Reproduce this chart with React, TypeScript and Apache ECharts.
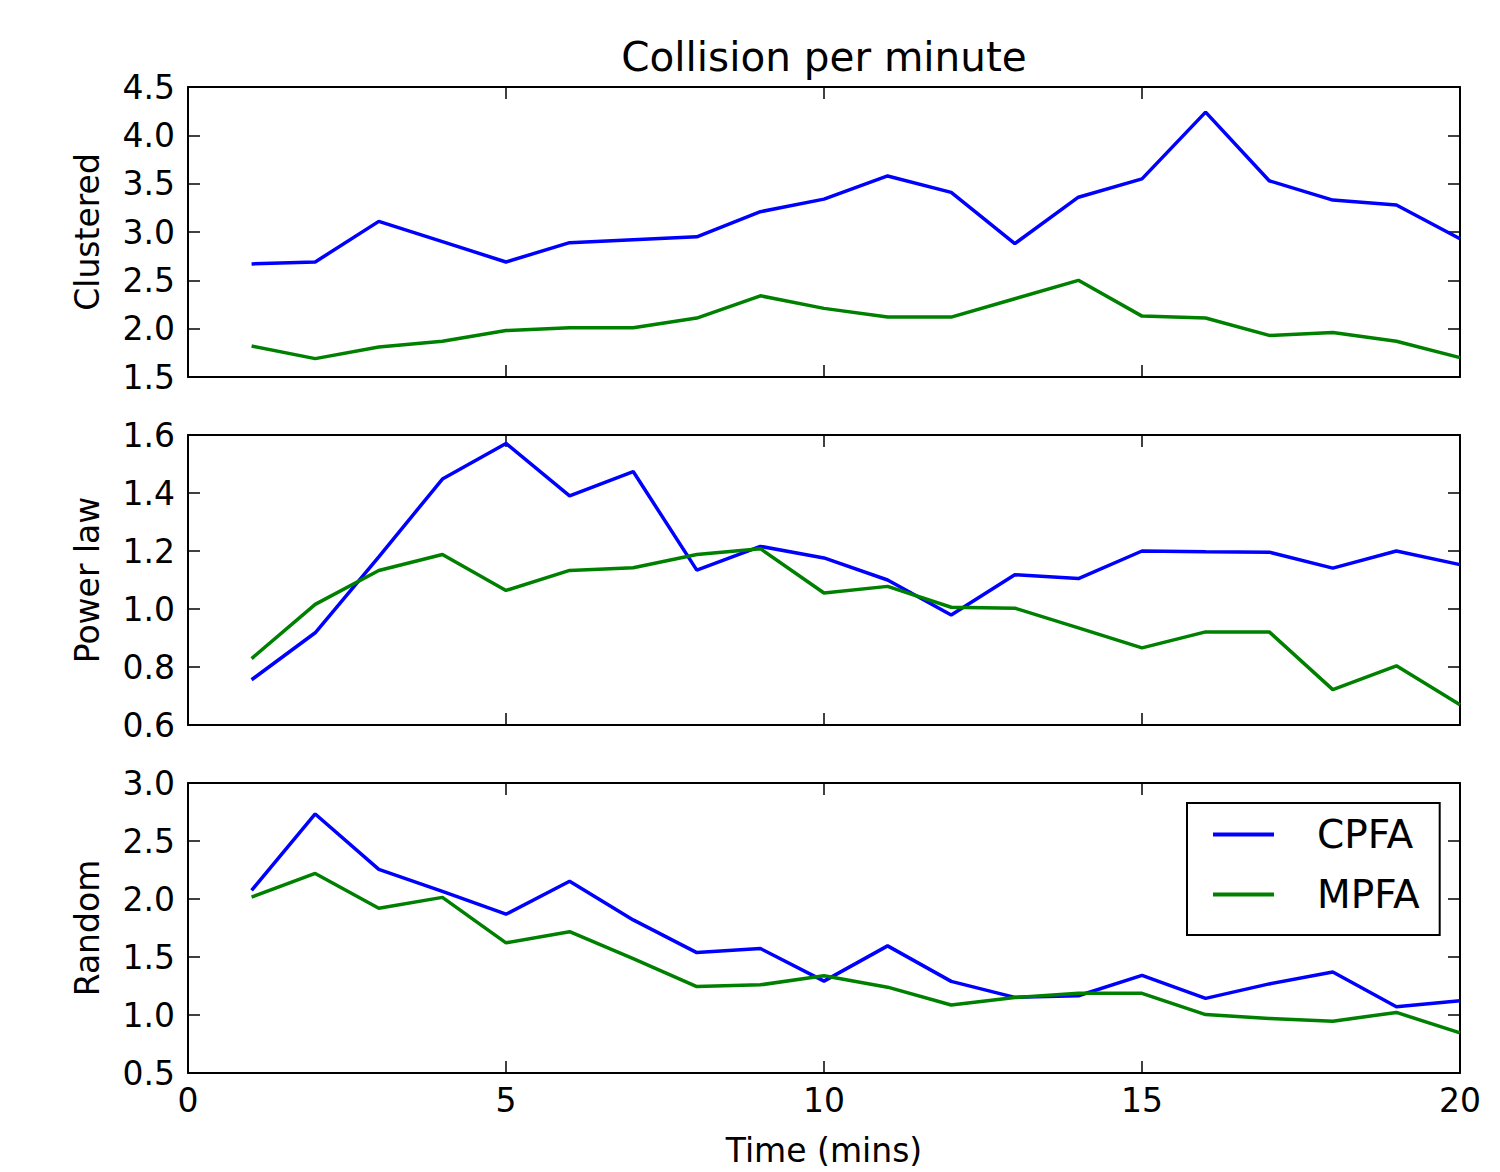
import React, { useEffect, useRef } from "react";
import * as echarts from "echarts";

const minutes = [1, 2, 3, 4, 5, 6, 7, 8, 9, 10, 11, 12, 13, 14, 15, 16, 17, 18, 19, 20];

const cpfaClustered = [2.67, 2.69, 3.11, 2.9, 2.69, 2.89, 2.92, 2.95, 3.21, 3.34, 3.58, 3.41, 2.88, 3.36, 3.55, 4.24, 3.53, 3.33, 3.28, 2.93];
const mpfaClustered = [1.82, 1.69, 1.81, 1.87, 1.98, 2.01, 2.01, 2.11, 2.34, 2.21, 2.12, 2.12, 2.31, 2.5, 2.13, 2.11, 1.93, 1.96, 1.87, 1.7];

const cpfaPower = [0.756, 0.918, 1.18, 1.448, 1.571, 1.39, 1.474, 1.134, 1.216, 1.176, 1.1, 0.979, 1.118, 1.105, 1.2, 1.197, 1.196, 1.141, 1.2, 1.153];
const mpfaPower = [0.829, 1.016, 1.133, 1.188, 1.064, 1.133, 1.142, 1.188, 1.208, 1.055, 1.078, 1.006, 1.003, 0.935, 0.866, 0.921, 0.921, 0.722, 0.804, 0.67];

const cpfaRandom = [2.075, 2.733, 2.255, 2.066, 1.869, 2.153, 1.82, 1.538, 1.573, 1.292, 1.596, 1.29, 1.152, 1.166, 1.341, 1.143, 1.268, 1.37, 1.071, 1.123];
const mpfaRandom = [2.017, 2.22, 1.921, 2.014, 1.622, 1.718, 1.486, 1.245, 1.26, 1.338, 1.24, 1.086, 1.15, 1.187, 1.187, 1.004, 0.97, 0.947, 1.022, 0.846];

const panelNames = ["Clustered", "Power law", "Random"];
const yMins = [1.5, 0.6, 0.5];
const yMaxs = [4.5, 1.6, 3.0];
const yIntervals = [0.5, 0.2, 0.5];
const xMin = 0;
const xMax = 20;
const xInterval = 5;
const seriesNames = ["CPFA", "MPFA"];
const title = "Collision per minute";
const xName = "Time (mins)";

const FONT = "DejaVu Sans";
const BLUE = "#0000ff";
const GREEN = "#008000";

export default function App() {
  const ref = useRef<HTMLDivElement>(null);
  useEffect(() => {
    if (!ref.current) return;
    const chart = echarts.init(ref.current, null, { renderer: "svg" });
    const panelData = [
      [cpfaClustered, mpfaClustered],
      [cpfaPower, mpfaPower],
      [cpfaRandom, mpfaRandom],
    ];
    const tops = [87, 435, 783];
    const grids = tops.map((t) => ({ left: 188, right: 40, top: t, height: 290 }));
    const axisLine = { show: true, onZero: false, lineStyle: { color: "#000", width: 2 } };
    const tick = (show: boolean) => ({ show, inside: true, length: 12, lineStyle: { color: "#000", width: 1.5 } });
    const xAxes: any[] = [];
    const yAxes: any[] = [];
    for (let i = 0; i < 3; i++) {
      const last = i === 2;
      xAxes.push({
        type: "value", gridIndex: i, position: "bottom", min: xMin, max: xMax, interval: xInterval,
        axisLine, axisTick: tick(true), splitLine: { show: false },
        axisLabel: { show: last, color: "#000", fontFamily: FONT, fontSize: 33, margin: 11 },
        name: last ? xName : "", nameLocation: "middle", nameGap: 61,
        nameTextStyle: { color: "#000", fontFamily: FONT, fontSize: 33 },
      });
      xAxes.push({
        type: "value", gridIndex: i, position: "top", min: xMin, max: xMax, interval: xInterval,
        axisLine, axisTick: tick(true), splitLine: { show: false }, axisLabel: { show: false },
      });
      yAxes.push({
        type: "value", gridIndex: i, position: "left", min: yMins[i], max: yMaxs[i], interval: yIntervals[i],
        axisLine, axisTick: tick(true), splitLine: { show: false },
        axisLabel: {
          color: "#000", fontFamily: FONT, fontSize: 33, margin: 13, padding: [0, 0, 8, 0],
          formatter: (v: number) => v.toFixed(1),
        },
        name: panelNames[i], nameLocation: "middle", nameGap: 84, nameRotate: 90,
        nameTextStyle: { color: "#000", fontFamily: FONT, fontSize: 33 },
      });
      yAxes.push({
        type: "value", gridIndex: i, position: "right", min: yMins[i], max: yMaxs[i], interval: yIntervals[i],
        axisLine, axisTick: tick(true), splitLine: { show: false }, axisLabel: { show: false },
      });
    }
    const series: any[] = [];
    for (let i = 0; i < 3; i++) {
      panelData[i].forEach((vals, k) => {
        series.push({
          type: "line", name: seriesNames[k], xAxisIndex: i * 2, yAxisIndex: i * 2,
          data: minutes.map((m, j) => [m, vals[j]]),
          showSymbol: false, symbol: "none",
          lineStyle: { color: k === 0 ? BLUE : GREEN, width: 3.5 },
          itemStyle: { color: k === 0 ? BLUE : GREEN },
          z: 3,
        });
      });
    }
    chart.setOption({
      animation: false,
      backgroundColor: "#fff",
      grid: grids,
      xAxis: xAxes,
      yAxis: yAxes,
      series,
      legend: {
        data: seriesNames, orient: "vertical", left: 1187, top: 803,
        icon: "rect", itemWidth: 61, itemHeight: 4, itemGap: 21,
        padding: [12, 20, 21, 26],
        borderColor: "#000", borderWidth: 2, borderRadius: 0, backgroundColor: "#fff",
        textStyle: { color: "#000", fontFamily: FONT, fontSize: 39, padding: [0, 0, 0, 38] },
        selectedMode: false,
      },
      graphic: [
        {
          type: "text", x: 824, y: 57,
          style: { text: title, fill: "#000", font: `40.5px "${FONT}"`, align: "center", verticalAlign: "middle" },
        },
      ],
    });
    return () => chart.dispose();
  }, []);
  return (
    <div
      ref={ref}
      style={{ position: "absolute", left: 0, top: 0, width: 1500, height: 1172, background: "#fff" }}
    />
  );
}
